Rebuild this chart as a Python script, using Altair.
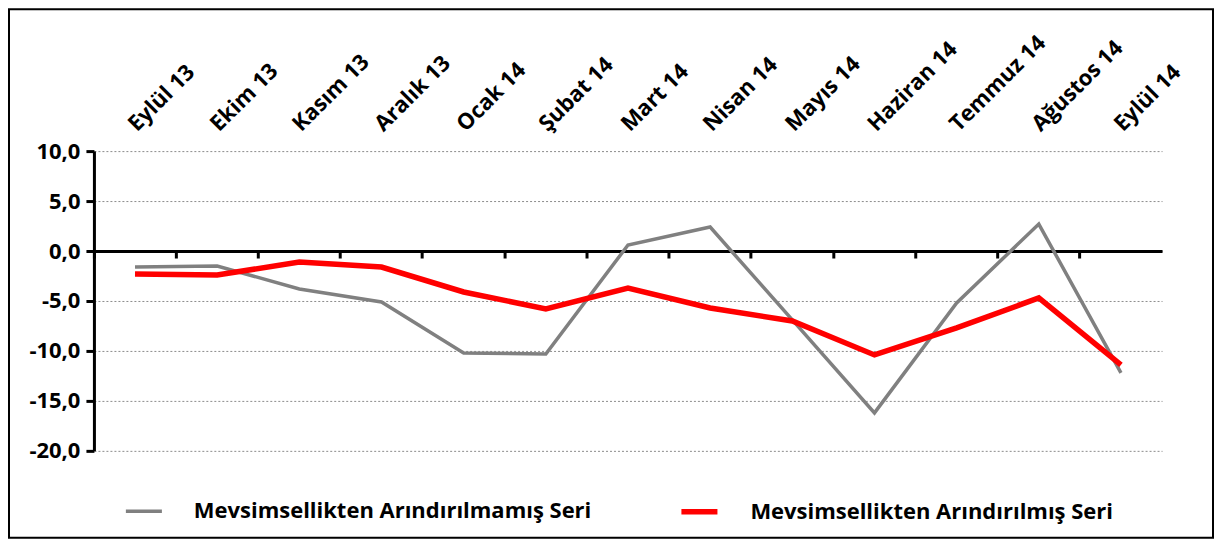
import altair as alt
import pandas as pd

months = ["Eylül 13", "Ekim 13", "Kasım 13", "Aralık 13", "Ocak 14", "Şubat 14",
          "Mart 14", "Nisan 14", "Mayıs 14", "Haziran 14", "Temmuz 14",
          "Ağustos 14", "Eylül 14"]
unadjusted = [-1.6, -1.5, -3.8, -5.1, -10.2, -10.3, 0.6, 2.4, -6.9, -16.2, -5.2, 2.7, -12.2]
adjusted = [-2.3, -2.4, -1.1, -1.6, -4.1, -5.8, -3.7, -5.7, -7.0, -10.4, -7.7, -4.7, -11.4]
series_names = ["Mevsimsellikten Arındırılmamış Seri", "Mevsimsellikten Arındırılmış Seri"]
series_colors = ["#808080", "#FF0000"]
y_ticks = [-20, -15, -10, -5, 0, 5, 10]

rows = []
for s, vals in zip(series_names, [unadjusted, adjusted]):
    for m, v in zip(months, vals):
        rows.append({"ay": m, "seri": s, "deger": v})
df = pd.DataFrame(rows)

FONT = "Open Sans"

xscale = alt.Scale(type="band", paddingInner=0, paddingOuter=0, domain=months)
yscale = alt.Scale(domain=[-20, 10], nice=False, zero=False)

yaxis = alt.Axis(values=y_ticks, title=None,
                 labelExpr="replace(replace(format(datum.value, '.1f'), '.', ','), '\u2212', '-')",
                 labelFont=FONT, labelFontSize=22, labelFontWeight="bold", labelColor="black",
                 labelPadding=6, domainColor="black", domainWidth=3,
                 tickColor="black", tickWidth=3, tickSize=8,
                 grid=True, gridColor="#8c8c8c", gridDash=[2, 2], gridWidth=1)

lines = alt.Chart(df).mark_line(strokeCap="butt", strokeJoin="miter").encode(
    x=alt.X("ay:N", sort=months, scale=xscale, bandPosition=0.5,
            axis=alt.Axis(orient="top", title=None, domain=False, ticks=False, grid=False,
                          labelAngle=315, labelAlign="left", labelBaseline="middle",
                          labelPadding=24, labelOffset=-3, labelFont=FONT, labelFontSize=22,
                          labelFontWeight="bold", labelColor="black", labelLimit=300)),
    y=alt.Y("deger:Q", scale=yscale, axis=yaxis),
    color=alt.Color("seri:N", sort=series_names,
                    scale=alt.Scale(domain=series_names, range=series_colors),
                    legend=alt.Legend(title=None, orient="none", legendX=30, legendY=340,
                                      direction="horizontal", symbolType="stroke",
                                      symbolStrokeWidth=5, symbolSize=1300,
                                      labelFont=FONT, labelFontSize=22, labelFontWeight="bold",
                                      labelColor="black", labelLimit=600, labelOffset=30,
                                      columnPadding=77)),
    strokeWidth=alt.StrokeWidth("seri:N", scale=alt.Scale(domain=series_names, range=[3.5, 5.5]),
                                legend=None),
)

# axis line at zero with ticks at category boundaries
zero_axis = alt.Chart(df).mark_point(opacity=0).encode(
    x=alt.X("ay:N", sort=months, scale=xscale,
            axis=alt.Axis(orient="bottom", offset=-200, title=None, labels=False,
                          grid=False, domainColor="black", domainWidth=3,
                          tickColor="black", tickWidth=3, tickSize=7, bandPosition=0)),
    y=alt.Y("deger:Q", scale=yscale, axis=yaxis),
)

border = alt.Chart(pd.DataFrame({"a": [0]})).mark_rect(
    fillOpacity=0, stroke="black", strokeWidth=2
).encode(x=alt.value(-85), x2=alt.value(1120), y=alt.value(-142), y2=alt.value(387))

chart = alt.layer(border, zero_axis, lines).resolve_axis(x="independent").properties(
    width=1069, height=300, padding=0
).configure_view(stroke=None)

chart.save("out.html", embed_options={"renderer": "svg", "actions": False})
